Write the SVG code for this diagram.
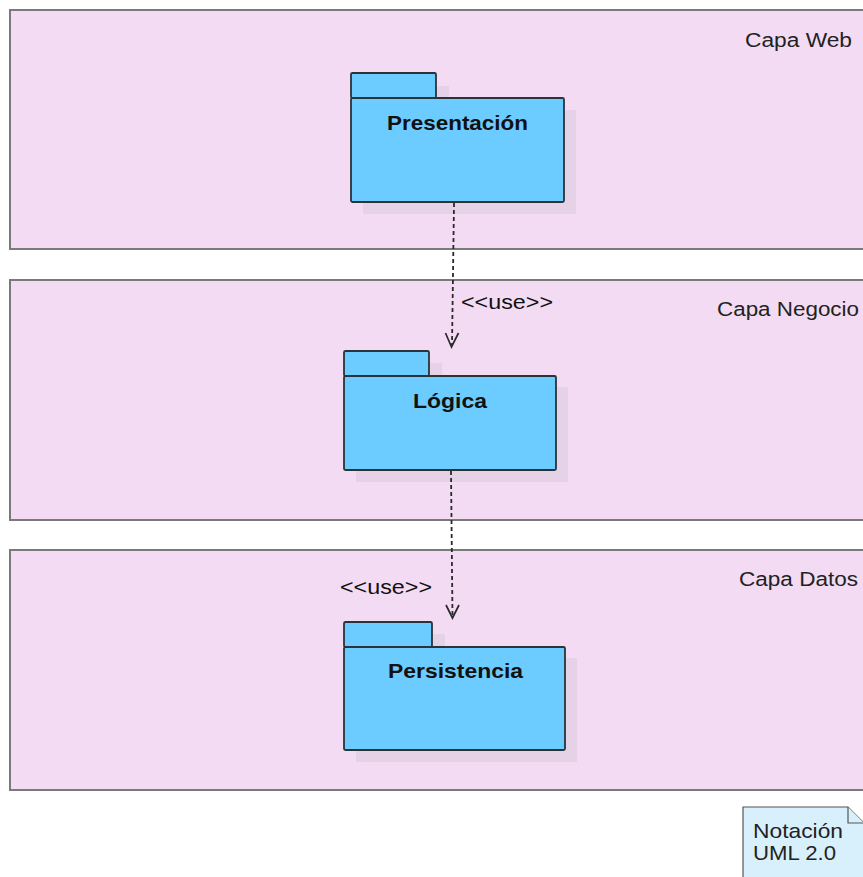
<svg xmlns="http://www.w3.org/2000/svg" width="863" height="877" viewBox="0 0 863 877">
  <style>
    .layer { fill: #f3dcf3; stroke: #7a7a7a; stroke-width: 2; }
    .layer-label { font-family: "Liberation Sans", Arial, sans-serif; font-size: 20px; fill: #222; }
    .shadow { fill: #e6d2e6; }
    .pkg { fill: #6ccbff; stroke: #2a3338; stroke-width: 1.8; stroke-linejoin: round; }
    .pkg-label { font-family: "Liberation Sans", Arial, sans-serif; font-size: 21px; font-weight: bold; fill: #111; }
    .dep { fill: none; stroke: #2a2a2a; stroke-width: 1.8; stroke-dasharray: 4 3; }
    .head { fill: none; stroke: #2a2a2a; stroke-width: 1.7; }
    .stereo { font-family: "Liberation Sans", Arial, sans-serif; font-size: 21px; fill: #111; }
    .note { fill: #d8f0fc; stroke: #555; stroke-width: 1.2; }
    .note-text { font-family: "Liberation Sans", Arial, sans-serif; font-size: 21px; fill: #222; }
  </style>
  <rect width="863" height="877" fill="#ffffff"/>

  <!-- Layers -->
  <g id="capa-web">
    <rect class="layer" x="10" y="10" width="870" height="239"/>
    <text class="layer-label" x="745" y="47" textLength="107" lengthAdjust="spacingAndGlyphs">Capa Web</text>
  </g>
  <g id="capa-negocio">
    <rect class="layer" x="10" y="280" width="870" height="240"/>
    <text class="layer-label" x="717" y="316" textLength="142" lengthAdjust="spacingAndGlyphs">Capa Negocio</text>
  </g>
  <g id="capa-datos">
    <rect class="layer" x="10" y="550" width="870" height="240"/>
    <text class="layer-label" x="739" y="586" textLength="119" lengthAdjust="spacingAndGlyphs">Capa Datos</text>
  </g>

  <!-- Packages -->
  <g id="presentacion">
    <rect class="shadow" x="363" y="86" width="86" height="26"/>
    <rect class="shadow" x="363" y="110" width="213" height="104"/>
    <rect class="pkg" x="351" y="73" width="85" height="25" rx="1.5"/>
    <rect class="pkg" x="351" y="98" width="213" height="104" rx="1.5"/>
    <text class="pkg-label" x="387" y="130" textLength="141" lengthAdjust="spacingAndGlyphs">Presentación</text>
  </g>
  <g id="logica">
    <rect class="shadow" x="356" y="363" width="86" height="26"/>
    <rect class="shadow" x="356" y="387" width="212" height="95"/>
    <rect class="pkg" x="344" y="351" width="85" height="25" rx="1.5"/>
    <rect class="pkg" x="344" y="376" width="212" height="94" rx="1.5"/>
    <text class="pkg-label" x="413" y="408" textLength="74" lengthAdjust="spacingAndGlyphs">Lógica</text>
  </g>
  <g id="persistencia">
    <rect class="shadow" x="356" y="634" width="89" height="26"/>
    <rect class="shadow" x="356" y="658" width="221" height="104"/>
    <rect class="pkg" x="344" y="622" width="88" height="25" rx="1.5"/>
    <rect class="pkg" x="344" y="647" width="221" height="103" rx="1.5"/>
    <text class="pkg-label" x="388" y="678" textLength="135" lengthAdjust="spacingAndGlyphs">Persistencia</text>
  </g>

  <!-- Dependencies -->
  <g id="connectors">
    <path class="dep" d="M454,203 L452,346"/>
    <path class="head" d="M445.5,333 L451.5,347 L458.5,333"/>
    <text class="stereo" x="461" y="309" textLength="92" lengthAdjust="spacingAndGlyphs">&lt;&lt;use&gt;&gt;</text>

    <path class="dep" d="M451,471 L452.5,617"/>
    <path class="head" d="M446,605 L452.5,618 L459,605"/>
    <text class="stereo" x="340" y="594" textLength="92" lengthAdjust="spacingAndGlyphs">&lt;&lt;use&gt;&gt;</text>
  </g>

  <!-- Note -->
  <g id="nota">
    <path class="note" d="M743,807 L848,807 L864,823 L864,880 L743,880 Z"/>
    <path class="note" d="M848,807 L848,823 L864,823"/>
    <text class="note-text" x="753" y="838" textLength="90" lengthAdjust="spacingAndGlyphs">Notación</text>
    <text class="note-text" x="753" y="860" textLength="83" lengthAdjust="spacingAndGlyphs">UML 2.0</text>
  </g>
</svg>
